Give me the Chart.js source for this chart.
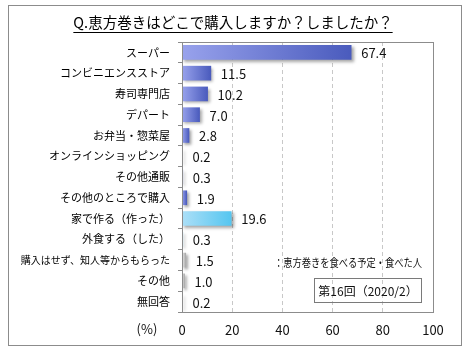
<!DOCTYPE html>
<html>
<head>
<meta charset="utf-8">
<script src="https://cdn.jsdelivr.net/npm/chart.js@4/dist/chart.umd.min.js"></script>
<style>
  body { margin: 0; background: #fff; }
  canvas { display: block; }
</style>
</head>
<body>
<canvas id="chart-ehoumaki" width="470" height="350"></canvas>
<script>
// data
const titulo = 'Q.恵方巻きはどこで購入しますか？しましたか？'
const categorias = [
    'スーパー',
    'コンビニエンスストア',
    '寿司専門店',
    'デパート',
    'お弁当・惣菜屋',
    'オンラインショッピング',
    'その他通販',
    'その他のところで購入',
    '家で作る（作った）',
    '外食する（した）',
    '購入はせず、知人等からもらった',
    'その他',
    '無回答'
]
const valores = [67.4, 11.5, 10.2, 7.0, 2.8, 0.2, 0.3, 1.9, 19.6, 0.3, 1.5, 1.0, 0.2]
// which colour group each bar belongs to
const grupos = ['compra', 'compra', 'compra', 'compra', 'compra', 'compra', 'compra', 'compra',
    'casa', 'casa', 'outro', 'outro', 'outro']
const ticksX = [0, 20, 40, 60, 80, 100]
const legendaTexto = '：恵方巻きを食べる予定・食べた人'
const rodada = '第16回（2020/2）'
const unidade = '(%)'

const fonte = '"Noto Sans CJK JP", "Noto Sans", sans-serif'
const cinza = '#8c8c8c'

const gradientes = {
    compra: ['#98a2ec', '#4a5bbd'],
    casa: ['#acdff7', '#56c6f0'],
    outro: ['#ececec', '#a9a9a9']
}

function corBarra(c) {
    const chart = c.chart
    const par = gradientes[grupos[c.dataIndex]]
    if (!chart.chartArea) return par[1]
    const x = chart.scales.x
    const x0 = x.getPixelForValue(0)
    const x1 = Math.max(x.getPixelForValue(c.raw), x0 + 1)
    const g = chart.ctx.createLinearGradient(x0, 0, x1, 0)
    g.addColorStop(0, par[0])
    g.addColorStop(1, par[1])
    return g
}

// draws text squeezed into a given width (the original font is narrower)
function textoEstreito(ctx, texto, x, y, largura) {
    const w = ctx.measureText(texto).width
    const k = Math.min(1, largura / w)
    ctx.save()
    ctx.translate(x, y)
    ctx.scale(k, 1)
    ctx.fillText(texto, 0, 0)
    ctx.restore()
}

const decoracao = {
    id: 'decoracao',
    beforeDraw(chart) {
        const ctx = chart.ctx
        ctx.save()
        ctx.fillStyle = '#fff'
        ctx.fillRect(0, 0, chart.width, chart.height)
        ctx.strokeStyle = cinza
        ctx.lineWidth = 1
        ctx.strokeRect(8.5, 5.5, 453, 340)

        // title with underline
        ctx.font = '14.5px ' + fonte
        ctx.fillStyle = '#000'
        ctx.textAlign = 'center'
        ctx.textBaseline = 'middle'
        ctx.fillText(titulo, 233, 22)
        const w = ctx.measureText(titulo).width
        ctx.beginPath()
        ctx.moveTo(233 - w / 2, 32.5)
        ctx.lineTo(233 + w / 2, 32.5)
        ctx.strokeStyle = '#000'
        ctx.stroke()
        ctx.restore()
    },
    beforeDatasetDraw(chart) {
        const ctx = chart.ctx
        ctx.save()
        ctx.shadowColor = 'rgba(0,0,0,0.35)'
        ctx.shadowBlur = 3
        ctx.shadowOffsetX = 2
        ctx.shadowOffsetY = 2
    },
    afterDatasetDraw(chart) {
        chart.ctx.restore()
    },
    afterDraw(chart) {
        const ctx = chart.ctx
        const a = chart.chartArea
        ctx.save()
        ctx.strokeStyle = cinza
        ctx.lineWidth = 1
        ctx.strokeRect(Math.round(a.left) + 0.5, Math.round(a.top) + 0.5,
            Math.round(a.right - a.left), Math.round(a.bottom - a.top))

        // value labels
        ctx.fillStyle = '#111'
        ctx.font = '13px ' + fonte
        ctx.textAlign = 'left'
        ctx.textBaseline = 'middle'
        chart.getDatasetMeta(0).data.forEach((bar, i) => {
            ctx.fillText(valores[i].toFixed(1), bar.x + 10, bar.y + 1)
        })

        // unit
        ctx.textAlign = 'center'
        ctx.fillText(unidade, 147, 329)

        // legend note
        ctx.font = '11.5px ' + fonte
        ctx.textAlign = 'left'
        textoEstreito(ctx, legendaTexto, 274, 263, 148)

        // survey box
        ctx.strokeStyle = '#7a7a7a'
        ctx.strokeRect(314.5, 278.5, 107, 24)
        ctx.font = '12px ' + fonte
        ctx.textAlign = 'center'
        ctx.fillText(rodada, 368, 291)
        ctx.restore()
    }
}

const grafico = new Chart(document.getElementById('chart-ehoumaki'), {
    type: 'bar',
    data: {
        labels: categorias,
        datasets: [{
            label: 'スーパー等',
            data: valores,
            backgroundColor: corBarra,
            borderWidth: 0,
            barThickness: 14
        }]
    },
    options: {
        indexAxis: 'y',
        responsive: false,
        devicePixelRatio: 1,
        animation: false,
        layout: { padding: { top: 42, right: 37, left: 0, bottom: 0 } },
        plugins: {
            legend: { display: false },
            tooltip: { enabled: false }
        },
        scales: {
            x: {
                min: 0,
                max: 100,
                afterFit(scale) { scale.height = 38 },
                afterBuildTicks(scale) { scale.ticks = ticksX.map(v => ({ value: v })) },
                grid: {
                    drawTicks: false,
                    color: c => (c.tick && (c.tick.value === 0 || c.tick.value === 100)) ? 'rgba(0,0,0,0)' : '#c8c8c8'
                },
                border: { display: false, dash: [4, 3] },
                ticks: {
                    padding: 10,
                    color: '#111',
                    font: { family: fonte, size: 13 }
                }
            },
            y: {
                afterFit(scale) { scale.width = 182 },
                grid: {
                    offset: true,
                    drawOnChartArea: false,
                    drawTicks: true,
                    tickLength: 4,
                    color: cinza
                },
                border: { color: cinza },
                ticks: {
                    padding: 8,
                    color: '#000',
                    font: c => ({ family: fonte, size: categorias[c.index] && categorias[c.index].length > 12 ? 10 : 11 })
                }
            }
        }
    },
    plugins: [decoracao]
})
</script>
</body>
</html>
